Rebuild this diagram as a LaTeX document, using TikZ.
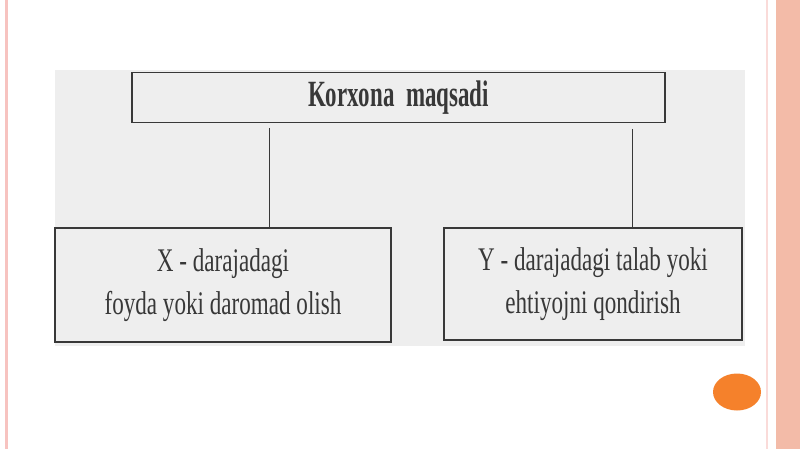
\documentclass[tikz,border=0pt]{standalone}
\usepackage{fontspec}
\setmainfont{Liberation Serif}[FakeStretch=0.70]
\newfontfamily\goalfont{Liberation Serif}[FakeStretch=0.62]
\usetikzlibrary{positioning}
\usetikzlibrary{shapes}

\definecolor{scan}{HTML}{EEEEEE}
\definecolor{ink}{HTML}{383838}
\definecolor{edge}{HTML}{F7C3C0}
\definecolor{band}{HTML}{F3BBA8}
\definecolor{dot}{HTML}{F5812B}

\begin{document}
\begin{tikzpicture}[x=1pt, y=-1pt]
    \tikzstyle{goalbox} = [rectangle, draw=ink, line width=1.4pt, inner sep=0pt,
    minimum width=533pt, minimum height=50pt, text=ink,
    font=\goalfont\bfseries\fontsize{37}{40}\selectfont]
    \tikzstyle{levelbox} = [rectangle, draw=ink, line width=1.4pt, inner sep=0pt,
    text=ink, align=center, font=\fontsize{33}{43}\selectfont]
    \tikzstyle{line} = [draw=ink, line width=1pt]
    \useasboundingbox (0,0) rectangle (800,449);
    % slide frame
    \fill[white] (0,0) rectangle (800,449);
    \fill[edge] (5,0) rectangle (8,449);
    \fill[edge!60] (766,0) rectangle (768,449);
    \fill[band] (776,0) rectangle (800,449);
    \node [ellipse, fill=dot, minimum width=48pt, minimum height=37pt,
    inner sep=0pt] (bullet) at (737,392) {};
    % scanned page
    \fill[scan] (55,70) rectangle (745,346);
    \node [goalbox] (goal) at (398.5,97.5) {Korxona\ \ maqsadi};
    \node [levelbox, minimum width=336pt, minimum height=114pt] (xlevel)
    at (223,285) {X - darajadagi\\foyda yoki daromad olish};
    \node [levelbox, minimum width=298pt, minimum height=112pt] (ylevel)
    at (593,284) {Y - darajadagi talab yoki\\ehtiyojni qondirish};
    \coordinate (xa) at (269,128);
    \coordinate (ya) at (632,129);
    \path [line] (xa) -- (xa |- xlevel.north);
    \path [line] (ya) -- (ya |- ylevel.north);
\end{tikzpicture}
\end{document}
